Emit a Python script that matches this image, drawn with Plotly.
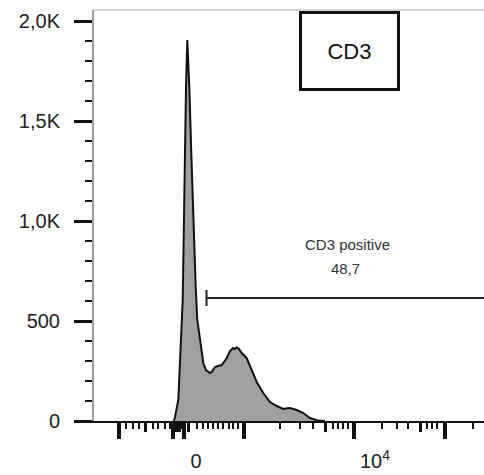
import plotly.graph_objects as go

# ---- data (x in display channels of the biexponential CD3 axis, y = event counts) ----
hist_channel = [80, 81, 84.3, 86.7, 88.7, 89.5, 90.7, 92.0, 93.3, 95.3, 97.3, 99.3, 101.7,
                103.3, 106, 109.3, 112, 116, 117.5, 119.3, 121, 124, 127.7, 130.7, 132.7,
                136, 139, 140.5, 142.7, 145, 147.7, 152.7, 157.7, 162.7, 169.3, 176, 182.7,
                189.3, 192, 196, 202.7, 209.3, 216, 224.3, 231]
hist_count = [0, 20, 105, 355, 605, 855, 1340, 1670, 1905, 1670, 1340, 1005, 670,
              505, 405, 290, 255, 240, 245, 255, 270, 275, 280, 300, 315,
              350, 365, 360, 368, 360, 340, 315, 255, 195, 140, 95, 75,
              60, 62, 65, 55, 40, 15, 2, 0]

gate_name = "CD3 positive"
gate_percent = "48,7"
gate_start = 112.5
gate_end = 390
gate_level = 615

y_tick_vals = [0, 500, 1000, 1500, 2000]
y_tick_text = ["0", "500", "1,0K", "1,5K", "2,0K"]

x_major_ticks = [25, 79, 90, 150, 260, 351]
x_mid_ticks = [51, 82, 85, 94, 231, 326]
x_minor_ticks = [32, 39, 45, 59, 64, 71, 76, 87, 103, 109, 114, 119, 124, 129, 135, 139,
                 144, 186, 206, 219, 239, 244, 249, 254, 288, 303, 314, 333, 338, 343, 379]
x_label_vals = [102, 281]
x_label_text = ["0", "10<sup>4</sup>"]

x_range = [0, 390]
y_range = [0, 2055]

FONT = "Liberation Sans, Arial, sans-serif"

fig = go.Figure()

fig.add_trace(go.Scatter(
    x=hist_channel, y=hist_count, mode="lines", fill="tozeroy",
    fillcolor="#a0a0a0", line=dict(color="#111111", width=2),
    showlegend=False, hoverinfo="skip"))

# gate bar with end cap
fig.add_trace(go.Scatter(
    x=[gate_start, gate_end, None, gate_start, gate_start],
    y=[gate_level, gate_level, None, gate_level + 40, gate_level - 40],
    mode="lines", line=dict(color="#222222", width=2),
    showlegend=False, hoverinfo="skip"))

# helper traces for overlay axes
fig.add_trace(go.Scatter(x=[None], y=[None], xaxis="x2", yaxis="y", mode="lines",
                         showlegend=False, hoverinfo="skip"))
fig.add_trace(go.Scatter(x=[None], y=[None], xaxis="x3", yaxis="y", mode="lines",
                         showlegend=False, hoverinfo="skip"))

fig.update_layout(
    width=484, height=475,
    margin=dict(l=94, r=0, t=10, b=54, autoexpand=False),
    paper_bgcolor="white", plot_bgcolor="white",
    font=dict(family=FONT, size=20, color="#222222"),
    xaxis=dict(
        range=x_range, showgrid=False, zeroline=False, automargin=False,
        showline=True, linecolor="#111111", linewidth=2,
        ticks="outside", tickmode="array", tickvals=x_major_ticks,
        ticklen=16, tickwidth=4, tickcolor="#111111",
        showticklabels=False,
        minor=dict(tickmode="array", tickvals=x_minor_ticks, ticks="outside",
                   ticklen=6, tickwidth=2, tickcolor="#111111", showgrid=False),
    ),
    xaxis2=dict(
        overlaying="x", range=x_range, showgrid=False, zeroline=False, showline=False,
        automargin=False,
        ticks="outside", tickmode="array", tickvals=x_mid_ticks,
        ticklen=10, tickwidth=3, tickcolor="#111111", showticklabels=False,
    ),
    xaxis3=dict(
        overlaying="x", range=x_range, showgrid=False, zeroline=False, showline=False,
        automargin=False,
        ticks="outside", tickmode="array", tickvals=x_label_vals, ticktext=x_label_text,
        ticklen=22, tickwidth=1, tickcolor="rgba(0,0,0,0)",
        tickfont=dict(family=FONT, size=20, color="#222222"),
    ),
    yaxis=dict(
        range=y_range, showgrid=False, zeroline=False, automargin=False,
        showline=True, linecolor="#9a9a9a", linewidth=2,
        ticks="outside", tickmode="array", tickvals=y_tick_vals, ticktext=y_tick_text,
        ticklen=18, tickwidth=3, tickcolor="#111111",
        tickfont=dict(family=FONT, size=20, color="#222222"),
        ticklabelstandoff=10,
        minor=dict(dtick=100, tick0=0, ticks="outside", ticklen=7, tickwidth=2,
                   tickcolor="#111111", showgrid=False),
    ),
    shapes=[dict(type="line", xref="paper", yref="paper", x0=0, x1=1, y0=1, y1=1,
                 line=dict(color="#aaaaaa", width=1))],
    annotations=[
        dict(text="CD3", xref="paper", yref="paper",
             x=(349 - 94) / 390, y=(421 - 50.5) / 411, xanchor="center", yanchor="middle",
             showarrow=False, font=dict(family=FONT, size=22, color="#111111"),
             width=95, height=74, borderpad=0, borderwidth=3, bordercolor="#111111",
             bgcolor="white"),
        dict(text=gate_name, x=253, y=885, xref="x", yref="y", showarrow=False,
             xanchor="center", yanchor="middle",
             font=dict(family=FONT, size=15, color="#333333")),
        dict(text=gate_percent, x=251, y=765, xref="x", yref="y", showarrow=False,
             xanchor="center", yanchor="middle",
             font=dict(family=FONT, size=15, color="#333333")),
    ],
)

fig.write_html("out.html")
